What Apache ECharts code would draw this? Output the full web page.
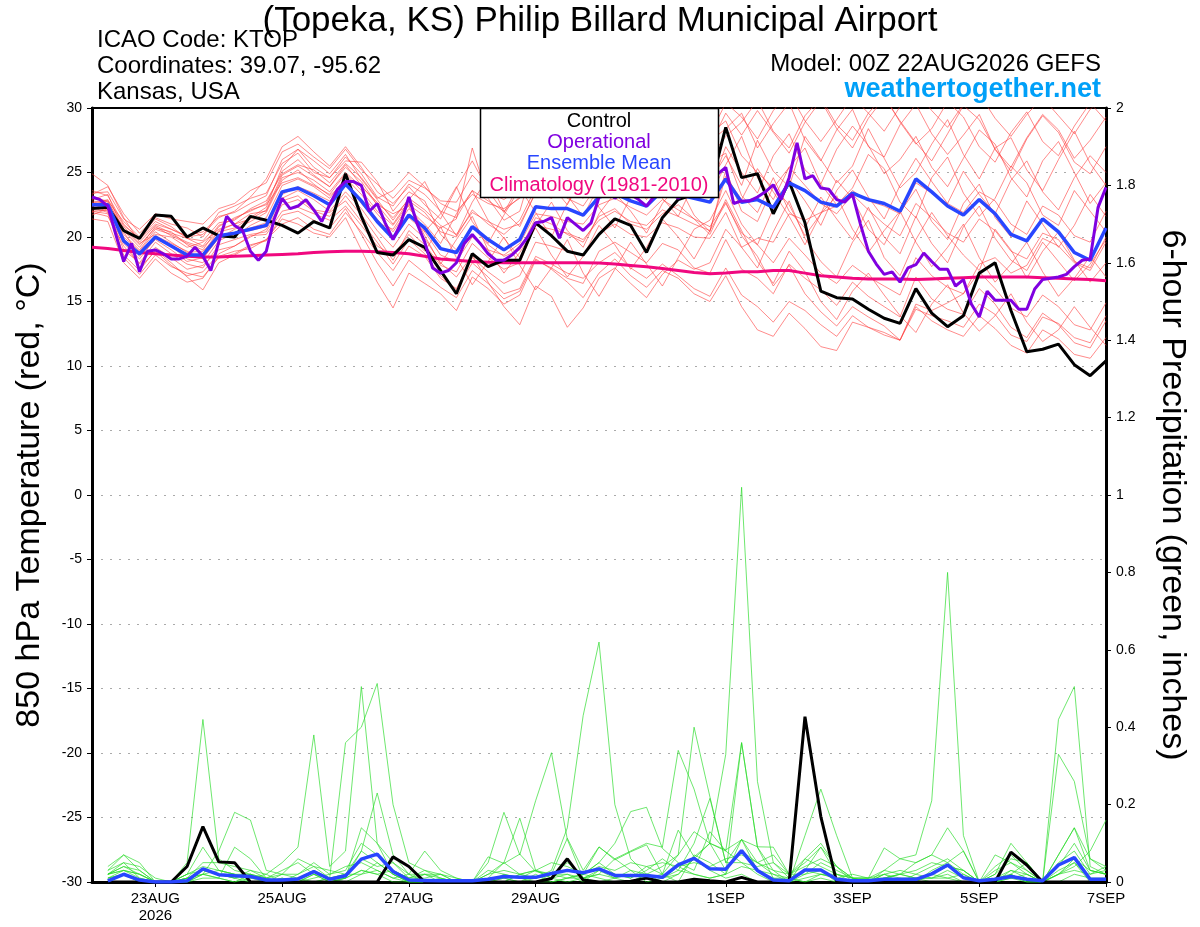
<!DOCTYPE html>
<html><head><meta charset="utf-8">
<script src="https://cdn.jsdelivr.net/npm/echarts@6/dist/echarts.min.js"></script>
<style>html,body{margin:0;padding:0;background:#fff}#c{width:1200px;height:927px}</style>
</head><body><div id="c"></div>
<script>
// ---- x axis: 3-hourly steps from 00Z 22AUG2026 to 00Z 7SEP2026 (hours) ----
const categories = [];
for (let h = 0; h <= 384; h += 3) categories.push(String(h));
const xTickHours = [24, 72, 120, 168, 240, 288, 336, 384];
const xTickLabels = ['23AUG\n2026', '25AUG', '27AUG', '29AUG', '1SEP', '3SEP', '5SEP', '7SEP'];

// ---- 850 hPa temperature (6-hourly, 65 values) ----
const control = [22.2,22.3,20.5,19.9,21.7,21.6,20.0,20.7,20.1,20.0,21.6,21.3,20.9,20.3,21.2,20.7,24.9,21.6,18.8,18.6,19.8,19.2,17.4,15.6,18.7,17.7,18.2,18.2,21.1,20.1,18.9,18.6,20.2,21.4,20.9,18.8,21.5,22.9,23.3,23.7,28.5,24.6,24.9,21.8,24.3,21.1,15.8,15.3,15.2,14.4,13.7,13.3,16.0,14.1,13.05,13.9,17.2,18.0,14.3,11.1,11.3,11.7,10.1,9.25,10.4];
const ensMean = [22.5,22.5,19.7,18.7,20.0,19.3,18.6,18.6,20.1,20.3,20.6,20.9,23.5,23.8,23.2,22.5,24.1,22.8,21.2,19.9,21.7,20.7,19.1,18.8,20.8,19.8,19.0,19.8,22.35,22.2,22.2,21.7,23.1,23.4,22.8,22.4,23.6,23.3,23.0,22.7,24.5,22.7,22.9,22.3,24.2,23.6,22.7,22.4,23.4,22.9,22.6,22.0,24.5,23.5,22.4,21.7,22.9,21.8,20.2,19.7,21.4,20.4,18.8,18.2,20.7];
const climatology = [19.2,19.1,18.95,18.8,18.7,18.6,18.5,18.45,18.45,18.5,18.55,18.6,18.65,18.7,18.8,18.85,18.9,18.9,18.85,18.8,18.7,18.5,18.3,18.2,18.1,18.05,18.0,18.0,18.0,18.0,18.0,18.0,17.98,17.9,17.8,17.7,17.55,17.4,17.25,17.15,17.2,17.3,17.3,17.4,17.4,17.2,17.0,16.9,16.8,16.75,16.75,16.75,16.7,16.75,16.8,16.85,16.9,16.9,16.9,16.9,16.85,16.8,16.75,16.7,16.6];
// operational run (3-hourly, 129 values)
const operational = [23.1,22.9,22.4,20.2,18.1,19.5,17.3,18.9,19.0,18.7,
18.3,18.3,18.5,19.2,18.5,17.4,19.6,21.6,20.9,20.5,
18.9,18.2,18.9,21.4,23.0,22.2,22.4,22.9,22.1,21.2,
22.5,23.7,24.3,24.3,24.0,22.0,22.6,21.1,19.8,21.1,
23.1,21.1,19.6,17.6,17.2,17.4,18.0,19.5,20.2,19.5,
18.7,18.2,18.2,18.6,19.2,20.0,21.1,21.2,21.5,19.9,
21.5,21.0,20.5,21.1,23.1,23.8,23.0,23.5,23.3,22.9,
22.4,23.2,23.8,23.5,23.0,23.4,23.8,23.2,23.6,24.9,
25.4,22.6,22.8,22.8,23.1,23.5,24.05,22.9,24.6,27.3,
24.5,24.75,23.8,23.7,22.9,22.7,23.3,21.0,18.9,17.9,
17.1,17.3,16.5,17.6,17.85,18.76,18.1,17.5,17.5,16.2,
16.7,14.8,13.8,15.8,15.1,15.1,15.1,14.4,14.4,15.97,
16.7,16.8,16.9,17.1,17.7,18.2,18.3,22.3,23.85];

// ensemble members (6-hourly, 65 values each)
const member01 = [23.0,22.8,20.5,19.2,20.8,20.1,19.5,19.0,20.8,21.5,22.0,22.6,25.1,26.0,24.8,23.9,25.6,24.0,22.5,21.0,
22.8,21.9,20.4,20.0,22.1,21.0,20.2,21.3,23.8,23.5,23.9,23.0,24.8,25.2,24.5,24.0,25.3,25.0,24.6,24.3,
26.3,24.0,27.5,25.1,23.9,27.8,26.0,24.2,25.5,28.4,26.1,23.8,25.0,27.2,29.1,26.4,24.5,26.9,27.7,25.2,23.6,26.0,28.2,25.7,24.0];
const member02 = [22.0,22.1,19.0,18.0,19.6,18.7,17.9,17.6,19.4,19.8,20.2,20.4,22.5,22.9,22.0,21.6,23.2,21.7,20.0,18.2,
20.5,19.4,17.8,17.3,19.5,18.4,17.5,18.0,20.9,20.6,20.3,19.8,21.3,22.0,21.2,20.9,22.1,21.6,21.0,20.5,
22.6,20.3,19.4,18.0,19.9,18.6,17.2,16.4,17.8,16.9,16.2,15.5,18.4,17.0,16.1,15.6,17.3,16.0,14.5,13.8,15.5,14.6,13.2,12.8,14.9];
const member03 = [23.6,23.2,21.0,19.8,21.0,20.6,20.0,20.2,21.5,22.0,23.1,24.5,27.0,27.8,26.6,25.5,27.0,25.4,23.5,22.6,
23.9,22.5,21.4,23.8,25.9,23.6,21.9,24.1,26.3,24.0,22.5,24.7,27.1,25.2,23.8,26.0,28.1,26.3,25.0,27.4,
28.4,29.6,26.9,28.8,30.4,27.5,25.9,28.3,29.9,27.0,26.2,28.7,30.3,28.0,26.4,27.9,29.5,26.8,25.1,27.6,29.4,28.1,25.8,24.9,27.0];
const member04 = [22.4,22.0,18.6,17.4,19.0,18.0,16.9,15.9,18.0,18.6,19.3,19.8,21.4,21.0,20.3,20.0,21.5,19.0,16.5,14.5,
17.2,16.4,15.6,14.3,16.9,16.0,14.8,15.5,18.2,17.6,16.8,16.4,18.9,19.6,18.8,18.0,19.5,19.0,17.6,17.2,
19.8,17.5,16.8,15.6,17.9,16.8,15.9,14.7,16.5,15.4,14.6,13.8,16.9,15.2,14.4,14.0,16.0,14.8,13.0,12.2,14.1,13.2,11.8,11.4,13.5];
const member05 = [22.8,22.6,20.0,18.9,20.4,19.6,18.8,18.9,20.2,20.0,20.9,21.5,24.0,24.5,23.9,23.0,24.6,23.3,21.8,20.4,
22.2,21.0,19.5,21.8,23.6,21.3,19.9,18.4,20.9,22.7,20.5,19.2,21.8,23.4,22.0,20.3,22.6,24.1,21.7,20.4,
25.2,22.0,21.2,23.9,22.5,20.1,21.8,24.4,23.0,20.6,19.4,21.9,23.7,21.2,19.8,22.6,24.1,21.5,20.0,22.8,21.0,19.2,20.9,23.3,21.6];
const member06 = [23.3,23.9,21.8,20.3,21.5,21.0,20.7,20.0,21.9,22.4,23.0,23.4,25.7,26.5,25.0,24.6,25.9,25.8,24.3,22.0,
23.5,22.8,20.2,19.0,20.8,19.4,18.5,19.0,21.5,21.0,20.2,19.6,21.6,22.2,21.0,20.6,21.8,22.5,21.4,20.2,
22.9,20.5,18.1,16.4,18.9,17.3,15.0,13.6,15.8,17.2,15.5,13.9,12.6,14.8,16.3,14.1,12.7,13.9,15.6,13.4,11.9,12.8,14.6,13.0,11.6];
const member07 = [22.1,22.4,20.8,19.5,20.2,20.0,19.2,19.6,20.6,21.0,21.8,22.0,24.6,25.0,24.4,23.5,25.0,23.9,22.7,21.5,
22.9,24.3,21.9,20.1,22.7,24.6,22.0,20.8,23.5,25.4,23.2,21.6,24.0,26.2,24.4,22.9,25.3,27.0,24.8,23.7,
27.0,25.0,23.4,26.3,28.0,25.2,24.1,26.8,28.6,27.1,24.9,26.0,27.8,25.4,23.9,26.1,28.3,27.2,24.6,23.1,25.9,27.4,25.0,22.6,24.2];
const member08 = [21.4,21.2,18.0,16.8,18.3,17.2,16.5,16.8,18.5,18.9,19.1,19.8,21.0,21.5,20.6,20.2,21.9,20.4,18.8,17.4,
19.3,18.5,16.8,16.0,18.4,17.3,16.4,17.0,19.6,19.3,18.9,18.6,20.3,21.0,20.2,20.0,21.1,20.7,20.0,19.9,
21.9,19.2,17.6,20.4,22.8,19.9,18.1,16.9,19.6,21.3,18.4,17.0,19.8,21.9,20.1,18.6,17.4,20.6,19.0,16.8,18.9,20.4,18.2,16.5,18.0];
const member09 = [22.6,22.9,20.9,19.9,21.2,20.6,20.1,20.4,21.6,21.9,22.6,23.2,26.0,26.8,25.4,24.6,26.2,24.9,23.1,22.4,
24.1,23.3,22.0,21.5,23.6,22.8,22.0,23.1,25.6,25.2,25.4,25.1,26.9,27.4,27.0,26.6,27.9,27.6,27.0,27.1,
29.6,27.9,29.8,28.1,26.5,28.9,30.6,28.4,26.9,29.2,30.8,29.0,27.3,25.9,28.0,30.2,29.1,26.8,25.4,27.7,29.5,28.3,26.1,27.5,29.3];
const member10 = [21.9,21.6,19.3,17.9,19.2,18.4,17.5,17.8,19.0,19.3,20.0,20.6,22.8,23.2,22.1,21.9,22.8,21.2,19.6,17.9,
19.8,18.7,17.0,15.9,18.0,16.9,15.6,16.0,18.5,17.9,17.2,16.8,18.0,18.8,17.6,16.8,17.9,17.0,16.0,15.4,
17.6,15.5,14.6,13.4,15.0,14.3,13.2,12.3,13.9,13.0,12.6,12.0,14.6,13.5,12.8,12.3,13.9,12.9,11.6,11.0,12.8,12.1,10.9,10.6,12.2];
const member11 = [22.9,23.3,20.4,18.5,19.8,19.0,18.1,18.4,19.9,20.6,21.2,21.9,24.4,25.2,24.1,23.2,24.3,22.6,21.1,20.6,
22.5,21.6,20.7,21.4,26.9,23.0,21.3,22.0,26.2,24.0,23.0,22.4,24.2,24.6,23.8,23.4,24.7,24.0,23.6,23.2,
25.6,27.8,24.6,22.9,25.4,26.9,24.1,22.5,23.8,26.4,25.3,22.7,21.5,24.6,26.2,23.4,21.6,23.0,25.5,24.2,21.7,20.9,23.6,22.0,20.4];
const member12 = [22.3,21.9,19.5,18.3,19.9,19.3,18.3,18.0,19.7,20.3,20.5,20.8,23.0,23.6,22.9,22.0,23.5,22.2,20.5,19.2,
21.0,19.9,18.0,16.9,18.6,16.5,14.6,13.2,16.2,15.4,13.0,14.5,16.8,17.6,16.4,15.3,17.1,18.2,17.5,18.0,
20.6,19.2,19.9,19.6,21.8,21.3,21.9,22.4,23.6,22.8,22.4,21.8,24.2,23.4,22.6,21.9,23.5,22.8,21.0,20.2,22.4,21.7,20.1,19.6,22.0];
const member13 = [22.7,22.3,20.2,19.0,20.6,20.2,19.6,19.2,20.4,20.7,21.5,22.3,25.4,26.8,25.9,24.9,26.4,24.5,22.9,21.3,
23.0,22.1,20.9,20.2,21.9,21.2,20.6,21.0,23.4,23.0,23.8,23.5,25.3,26.0,26.5,26.2,27.5,28.3,28.9,28.0,
29.0,26.3,25.0,23.8,25.4,24.0,22.6,21.8,23.3,22.1,21.0,20.1,22.6,21.5,20.3,19.6,21.4,20.5,18.9,18.3,20.3,19.8,18.1,17.6,20.0];
const member14 = [22.2,22.6,19.8,18.6,20.1,19.5,18.9,18.3,20.0,20.2,20.7,21.1,23.3,23.9,23.4,22.8,24.0,22.9,21.4,20.0,
21.5,20.4,18.6,18.1,20.0,19.0,18.6,19.5,21.8,21.6,21.2,21.0,22.5,23.0,22.3,21.7,22.9,22.1,21.4,20.8,
22.7,20.1,18.5,16.2,17.8,15.6,14.2,13.1,14.6,13.8,13.1,12.0,14.8,14.3,14.9,15.6,17.9,18.4,17.2,17.8,19.9,19.3,18.0,17.4,19.6];
const member15 = [24.9,24.0,21.5,19.6,20.9,20.3,19.9,19.7,21.1,21.3,22.2,22.8,24.9,25.6,25.2,24.2,25.7,24.6,23.0,23.6,
25.0,23.9,22.6,22.0,23.3,22.6,22.2,23.0,25.0,24.7,24.6,24.4,26.2,26.8,26.0,25.6,26.9,26.4,26.0,26.2,
27.8,28.9,30.6,28.2,26.9,29.4,30.8,28.7,27.5,29.6,31.0,28.9,27.2,28.4,30.5,29.3,27.0,25.8,28.1,29.7,27.4,26.3,28.6,30.4,29.0];
const member16 = [22.5,22.8,21.2,20.0,21.4,20.8,19.9,19.3,20.9,21.4,22.1,22.5,24.2,24.6,24.0,23.3,24.9,23.6,22.0,20.9,
22.6,20.4,21.8,23.9,21.2,19.5,21.7,23.8,21.9,20.0,22.6,24.5,22.3,20.7,23.1,25.2,23.0,21.6,24.2,25.8,
26.5,23.2,21.9,24.6,22.0,20.7,23.1,21.4,19.8,22.3,20.0,18.7,21.6,19.5,18.0,20.8,22.4,19.9,18.2,17.4,19.6,18.1,16.6,17.9,19.8];
const member17 = [21.7,22.2,19.9,17.6,18.9,17.8,17.0,17.3,18.7,19.3,20.1,20.2,22.0,22.3,21.8,21.3,22.4,20.9,19.3,18.6,
20.2,18.9,20.8,18.4,16.3,18.1,20.0,17.8,15.9,17.6,19.8,17.2,15.4,17.5,19.6,17.9,16.2,18.4,20.6,21.3,
23.6,21.0,19.4,22.2,24.5,22.8,20.9,23.6,25.2,23.1,21.4,24.0,26.1,24.3,22.6,25.1,23.3,21.8,24.4,25.9,23.5,22.1,24.6,26.3,25.0];
const member18 = [23.2,22.7,20.6,19.4,20.7,20.4,19.4,18.7,20.5,21.0,21.4,22.1,24.8,25.5,24.7,23.9,25.4,24.3,22.5,21.8,
22.4,20.1,17.9,19.8,21.6,19.0,17.2,18.8,20.7,18.6,16.9,18.5,20.9,19.4,17.5,19.2,21.4,20.0,18.3,20.5,
24.7,22.9,25.3,23.5,21.6,19.4,21.8,23.2,20.6,18.8,20.5,22.0,19.6,17.7,19.2,21.0,18.4,16.5,17.9,19.6,17.3,15.4,16.8,18.5,16.9];
const member19 = [23.4,23.5,21.4,20.6,21.8,21.4,21.2,21.0,22.2,22.6,23.6,24.2,26.6,27.2,26.2,25.3,26.8,25.2,24.1,23.0,
24.4,23.8,22.8,22.7,24.8,23.5,22.9,23.8,26.0,25.6,25.8,25.9,27.5,28.0,27.4,27.2,28.4,28.1,27.5,27.9,
30.4,29.3,27.6,29.8,31.2,29.0,27.4,29.1,30.9,29.6,28.2,30.1,31.4,29.8,28.5,30.3,31.1,29.2,27.8,29.5,30.8,29.4,28.0,29.9,31.0];
const member20 = [22.0,21.8,18.4,17.1,18.6,17.7,17.2,16.9,18.4,18.7,19.4,19.7,21.7,22.0,21.3,20.7,22.2,20.2,18.0,16.2,
18.2,17.2,16.1,15.3,17.4,16.4,15.2,15.8,18.3,17.5,16.5,15.3,17.2,18.3,17.0,16.1,17.4,16.8,15.6,15.0,
17.0,14.6,12.8,12.3,14.1,12.9,11.5,11.2,13.4,13.0,12.4,12.0,14.4,13.9,13.5,13.0,14.8,14.0,12.4,11.9,13.8,13.3,12.2,11.8,13.9];
const members = [member01,member02,member03,member04,member05,member06,member07,member08,member09,member10,member11,member12,member13,member14,member15,member16,member17,member18,member19,member20];

// ---- 6-hour precipitation (inches), 64 values from +6h to +384h ----
const controlPrecip = [0,0,0,0,0, 0.04,0.143,0.052,0.05,0, 0,0,0,0,0, 0,0,0,0.065,0.04, 0,0,0,0,0, 0,0,0,0.009,0.06, 0.005,0,0,0.002,0.01, 0,0,0.007,0.003,0, 0.012,0,0,0,0.427, 0.169,0,0,0,0, 0,0,0,0,0, 0,0,0.077,0.044,0, 0,0,0,0];
const meanPrecip = [0.003,0.02,0.005,0,0, 0.003,0.034,0.019,0.016,0.014, 0.005,0.005,0.008,0.027,0.007, 0.016,0.059,0.072,0.027,0.005, 0.004,0.003,0.003,0.003,0.007, 0.014,0.012,0.012,0.022,0.03, 0.024,0.034,0.017,0.017,0.017, 0.012,0.044,0.061,0.034,0.033, 0.081,0.03,0.005,0.003,0.031, 0.031,0.007,0.003,0.003,0.007, 0.007,0.007,0.021,0.044,0.011, 0.003,0.007,0.014,0.007,0.003, 0.044,0.063,0.007,0.007];
const precip01 = [0.02,0.05,0.01,0,0,0.01,0.03,0.02, 0.01,0,0,0,0,0.02,0,0.01, 0.03,0.02,0,0,0,0,0,0, 0,0.02,0.01,0,0,0.01,0.02,0.01, 0,0,0.02,0.04,0.07,0.13,0.1,0.33, 1.02,0.26,0.05,0.01,0,0.02,0.01,0, 0,0,0,0.01,0.02,0.01,0,0, 0,0.01,0,0,0.02,0.05,0.01,0];
const precip02 = [0.01,0.03,0.02,0,0,0,0.02,0.01, 0,0.02,0.01,0,0,0,0.01,0.02, 0.08,0.05,0.02,0,0,0,0,0, 0,0,0.02,0.03,0.01,0,0.01,0.02, 0.06,0.03,0,0.01,0.04,0.02,0.01,0.02, 0.11,0.05,0.02,0,0.06,0.1,0.04,0.01, 0,0.03,0.06,0.07,0.21,0.8,0.12,0, 0,0.03,0.01,0,0.07,0.14,0.03,0.02];
const precip03 = [0.03,0.07,0.03,0,0,0.02,0.09,0.03, 0.02,0,0,0.01,0,0,0,0.01, 0.14,0.1,0.02,0,0,0,0,0, 0.01,0.05,0.02,0.01,0.03,0.14,0.43,0.62, 0.2,0.06,0.02,0,0.02,0.06,0.03,0.01, 0.02,0,0,0,0.02,0.03,0,0, 0,0,0.01,0,0.03,0.05,0.02,0, 0,0.02,0.05,0,0.02,0.03,0.02,0.04];
const precip04 = [0.02,0.04,0.02,0,0,0.05,0.42,0.06, 0.03,0.02,0,0,0,0.01,0.02,0.04, 0.05,0.03,0.01,0,0.02,0.01,0,0, 0,0,0,0.01,0.02,0.05,0.02,0.09, 0.06,0.08,0.1,0.09,0.34,0.24,0.1,0.08, 0.05,0.02,0,0,0.03,0.09,0.04,0, 0,0.01,0,0,0.02,0.04,0.03,0, 0.02,0.1,0.05,0,0.03,0.05,0,0.01];
const precip05 = [0.01,0.02,0,0,0,0,0.03,0.02, 0.01,0.03,0.02,0.05,0.09,0.38,0.04,0.08, 0.505,0.1,0.05,0.02,0,0,0,0, 0,0,0.02,0.03,0.01,0.02,0,0.03, 0.02,0.01,0.04,0.02,0,0.07,0.05,0.02, 0.36,0.09,0.03,0,0.12,0.24,0.12,0.01, 0.01,0.03,0.02,0.05,0.07,0.14,0.08,0, 0,0.02,0,0,0.02,0.06,0.03,0.02];
const precip06 = [0.02,0.03,0.01,0,0,0.01,0.02,0.08, 0.18,0.16,0.03,0.02,0.06,0.04,0.01,0.36, 0.4,0.513,0.2,0.05,0.03,0.01,0,0, 0,0.01,0,0.02,0,0.01,0.01,0, 0.01,0,0.02,0.01,0.03,0.02,0.01,0.02, 0.04,0.03,0.02,0.01,0,0.01,0,0, 0,0.01,0.02,0.01,0.01,0.02,0,0, 0.01,0.02,0,0,0.33,0.26,0.06,0.03];
const precip07 = [0,0.02,0,0,0,0,0.01,0.01, 0.09,0.06,0.01,0.03,0.05,0.02,0.01,0.01, 0.08,0.23,0.07,0.02,0.08,0.03,0.01,0, 0.05,0.18,0.07,0.21,0.334,0.11,0.01,0.02, 0.01,0.02,0.01,0.02,0.07,0.4,0.22,0.05, 0.11,0.03,0.01,0,0.01,0.02,0.02,0, 0,0.02,0.01,0.01,0,0,0,0, 0,0.01,0.02,0,0,0.02,0.01,0.01];
const precip08 = [0.03,0.05,0.04,0.01,0,0.02,0.03,0.02, 0.01,0.02,0.01,0,0.02,0.04,0.03,0.02, 0.06,0.04,0.05,0.01,0.03,0.02,0,0, 0.02,0.05,0.165,0.03,0.02,0.01,0.02,0.05, 0.1,0.182,0.193,0.087,0.05,0.03,0.13,0.08, 0.36,0.09,0.01,0.01,0.03,0.02,0.01,0.02, 0.01,0.02,0.03,0.02,0.01,0.01,0.02,0, 0.07,0.05,0.02,0,0.02,0.04,0.08,0.16];
const precip09 = [0.01,0.02,0,0,0,0.01,0.02,0.01, 0,0.01,0.02,0,0.01,0,0.01,0.02, 0.02,0.03,0.01,0.02,0.02,0,0,0, 0,0.01,0,0,0.02,0.02,0.01,0.03, 0.01,0.03,0.02,0.01,0.02,0.06,0.1,0.03, 0.08,0.05,0.07,0.02,0.02,0.05,0.03,0.01, 0,0.02,0,0.02,0.04,0.06,0.03,0, 0.03,0.05,0.03,0,0.42,0.505,0.04,0.02];
const precip10 = [0.02,0.03,0.02,0,0,0,0.02,0.03, 0.02,0.01,0,0.01,0,0.02,0,0.01, 0.03,0.02,0.03,0.01,0.01,0.02,0,0, 0.065,0.048,0.072,0.027,0.02,0.113,0.03,0.091, 0.057,0.078,0.096,0.02,0.134,0.065,0.1,0.083, 0.109,0.091,0.09,0.02,0.06,0.04,0.02,0.01, 0.01,0.088,0.06,0.05,0.07,0.05,0.08,0, 0.02,0.06,0.05,0,0.07,0.14,0.06,0.04];
const precip11 = [0.04,0.07,0.05,0,0,0.02,0.04,0.03, 0.02,0.02,0,0.02,0.01,0.03,0.01,0, 0.02,0.05,0.02,0,0,0.01,0,0, 0.02,0.03,0.02,0.01,0.02,0.03,0.02,0.04, 0.03,0.05,0.04,0.05,0.04,0.05,0.04,0.06, 0.07,0.05,0.03,0.02,0.05,0.09,0.02,0.01, 0,0.01,0.02,0.01,0.01,0.03,0.01,0, 0.01,0.03,0.02,0,0.05,0.08,0.02,0.03];
const precip12 = [0.02,0.04,0.03,0,0,0.01,0.05,0.05, 0.04,0.03,0.01,0.02,0.02,0.05,0.02,0.03, 0.1,0.07,0.03,0.01,0.02,0.02,0.01,0, 0.03,0.02,0.01,0.03,0.05,0.04,0.02,0.05, 0.02,0.01,0.03,0.06,0.03,0.1,0.216,0.05, 0.05,0.04,0.05,0.02,0.04,0.06,0.04,0.01, 0.01,0.01,0.02,0.03,0.05,0.04,0.03,0, 0.04,0.07,0.03,0,0.04,0.1,0.03,0.02];
const precipMembers = [precip01,precip02,precip03,precip04,precip05,precip06,precip07,precip08,precip09,precip10,precip11,precip12];

// ---- helpers: place 6-hourly values on the 3-hourly category axis ----
function sixHourly(arr, startStep) {
  const out = new Array(categories.length).fill(null);
  arr.forEach((v, k) => { out[2 * (k + startStep)] = v; });
  return out;
}
const FONT = 'Liberation Sans, Arial, Helvetica, sans-serif';
const lineBase = { type: 'line', symbol: 'none', connectNulls: true, animation: false, silent: true, clip: true };

const series = [];
members.forEach((m, k) => series.push(Object.assign({}, lineBase, {
  name: 'member' + (k + 1), yAxisIndex: 0, data: sixHourly(m, 0), z: 2,
  lineStyle: { color: 'rgba(255,60,60,0.75)', width: 0.8 }
})));
precipMembers.forEach((m, k) => series.push(Object.assign({}, lineBase, {
  name: 'precip' + (k + 1), yAxisIndex: 1, data: sixHourly(m, 1), z: 2,
  lineStyle: { color: 'rgba(40,220,40,0.85)', width: 0.8 }
})));
series.push(Object.assign({}, lineBase, { name: 'Climatology', yAxisIndex: 0, data: sixHourly(climatology, 0), z: 3,
  lineStyle: { color: '#f0087f', width: 3 } }));
series.push(Object.assign({}, lineBase, { name: 'Control', yAxisIndex: 0, data: sixHourly(control, 0), z: 4,
  lineStyle: { color: '#000', width: 3 } }));
series.push(Object.assign({}, lineBase, { name: 'Ensemble Mean', yAxisIndex: 0, data: sixHourly(ensMean, 0), z: 5,
  lineStyle: { color: '#2846ff', width: 3.5 } }));
series.push(Object.assign({}, lineBase, { name: 'Operational', yAxisIndex: 0, data: operational, z: 6,
  lineStyle: { color: '#8000e0', width: 3 } }));
series.push(Object.assign({}, lineBase, { name: 'Control precip', yAxisIndex: 1, data: sixHourly(controlPrecip, 1), z: 4,
  lineStyle: { color: '#000', width: 3 } }));
series.push(Object.assign({}, lineBase, { name: 'Mean precip', yAxisIndex: 1, data: sixHourly(meanPrecip, 1), z: 5,
  lineStyle: { color: '#2846ff', width: 3.5 } }));

const chart = echarts.init(document.getElementById('c'), null, { renderer: 'canvas' });
chart.setOption({
  animation: false,
  backgroundColor: '#fff',
  textStyle: { fontFamily: FONT },
  title: {
    text: '(Topeka, KS) Philip Billard Municipal Airport',
    left: 'center', top: -1,
    textStyle: { fontSize: 35, fontWeight: 'normal', color: '#000', fontFamily: FONT }
  },
  grid: { left: 92, right: 94, top: 108, bottom: 45, show: true, borderColor: '#000', borderWidth: 2, backgroundColor: 'transparent' },
  xAxis: {
    type: 'category', data: categories, boundaryGap: false,
    axisLine: { onZero: false, lineStyle: { color: '#000', width: 3 } },
    axisTick: { length: 5, lineStyle: { color: '#000', width: 1 },
      interval: (i, v) => xTickHours.indexOf(+v) >= 0 },
    axisLabel: { interval: (i, v) => xTickHours.indexOf(+v) >= 0,
      formatter: v => xTickLabels[xTickHours.indexOf(+v)] || '',
      fontSize: 15, color: '#000', margin: 8, lineHeight: 17, fontFamily: FONT },
    splitLine: { show: false }
  },
  yAxis: [{
    type: 'value', min: -30, max: 30, interval: 5, position: 'left',
    name: '850 hPa Temperature (red, \u00B0C)', nameLocation: 'middle', nameGap: 45, nameRotate: 90,
    nameTextStyle: { fontSize: 34, color: '#000', fontFamily: FONT },
    axisLine: { show: true, onZero: false, lineStyle: { color: '#000', width: 3 } },
    axisTick: { show: true, length: 5, lineStyle: { color: '#000' } },
    axisLabel: { fontSize: 14, color: '#000', margin: 10, fontFamily: FONT },
    splitLine: { show: true, showMinLine: false, showMaxLine: false, lineStyle: { color: '#aaa', type: [2, 7], width: 1.2 } }
  }, {
    type: 'value', min: 0, max: 2, interval: 0.2, position: 'right',
    name: '6-hour Precipitation (green, inches)', nameLocation: 'middle', nameGap: 49, nameRotate: -90,
    nameTextStyle: { fontSize: 34, color: '#000', fontFamily: FONT },
    axisLine: { show: true, onZero: false, lineStyle: { color: '#000', width: 3 } },
    axisTick: { show: true, length: 5, lineStyle: { color: '#000' } },
    axisLabel: { fontSize: 14, color: '#000', margin: 10, fontFamily: FONT },
    splitLine: { show: false }
  }],
  graphic: [
    { type: 'text', x: 97, y: 40, z: 50, style: { text: 'ICAO Code: KTOP', font: '24px ' + FONT, fill: '#000', align: 'left', verticalAlign: 'middle' } },
    { type: 'text', x: 97, y: 66, z: 50, style: { text: 'Coordinates: 39.07, -95.62', font: '24px ' + FONT, fill: '#000', align: 'left', verticalAlign: 'middle' } },
    { type: 'text', x: 97, y: 92, z: 50, style: { text: 'Kansas, USA', font: '24px ' + FONT, fill: '#000', align: 'left', verticalAlign: 'middle' } },
    { type: 'text', x: 1101, y: 64, z: 50, style: { text: 'Model: 00Z 22AUG2026 GEFS', font: '24px ' + FONT, fill: '#000', align: 'right', verticalAlign: 'middle' } },
    { type: 'text', x: 1101, y: 90, z: 50, style: { text: 'weathertogether.net', font: 'bold 27px ' + FONT, fill: '#00a0f8', align: 'right', verticalAlign: 'middle' } },
    { type: 'rect', z: 100, shape: { x: 480.5, y: 108.5, width: 238, height: 89 }, style: { fill: '#fff', stroke: '#000', lineWidth: 1.5 } },
    { type: 'text', x: 599, y: 121, z: 101, style: { text: 'Control', font: '20px ' + FONT, fill: '#000', align: 'center', verticalAlign: 'middle' } },
    { type: 'text', x: 599, y: 142, z: 101, style: { text: 'Operational', font: '20px ' + FONT, fill: '#8000e0', align: 'center', verticalAlign: 'middle' } },
    { type: 'text', x: 599, y: 163, z: 101, style: { text: 'Ensemble Mean', font: '20px ' + FONT, fill: '#2846ff', align: 'center', verticalAlign: 'middle' } },
    { type: 'text', x: 599, y: 185, z: 101, style: { text: 'Climatology (1981-2010)', font: '20px ' + FONT, fill: '#f0087f', align: 'center', verticalAlign: 'middle' } }
  ],
  series: series
});
</script>
</body></html>
